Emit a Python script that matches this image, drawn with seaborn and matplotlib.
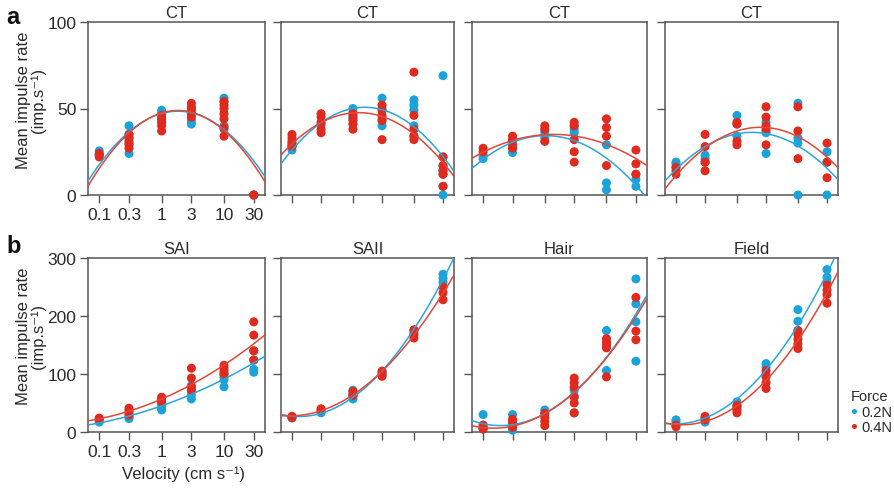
import numpy as np
import pandas as pd
import matplotlib
matplotlib.use("Agg")
import matplotlib.pyplot as plt
import seaborn as sns
from matplotlib.lines import Line2D

# Stroking velocities (cm/s) and their tick labels
velocities = [0.1, 0.3, 1, 3, 10, 30]
velocity_labels = ["0.1", "0.3", "1", "3", "10", "30"]
forces = ["0.2N", "0.4N"]

# Mean impulse rates (imp/s); one list per velocity, for each force
CT1_02 = [[25.5, 23.5], [40, 35, 33, 30, 24], [49, 47, 44], [50, 47, 43, 41], [56, 54, 40, 38], [0]]
CT1_04 = [[24, 23, 22], [35, 33, 31, 29, 27], [46, 44, 42, 40, 37], [53, 51, 49, 47, 45],
          [54, 52, 50, 47, 44, 39, 34], [0, 0]]

CT2_02 = [[30, 28, 26], [41, 40], [50, 48, 46, 44], [56, 50, 44, 40], [55, 52, 49, 40, 34],
          [69, 22, 17, 14, 12, 5, 0]]
CT2_04 = [[35, 33, 31, 29, 28], [47, 45, 42, 38, 36], [47, 45, 43, 41, 38], [52, 49, 46, 43, 32],
          [71, 46, 38, 34, 32], [22, 17, 14, 12, 5]]

CT3_02 = [[23, 21], [31, 27, 24.5], [37, 35, 33], [40, 38, 36], [29, 7, 3], [12, 9, 5]]
CT3_04 = [[27, 25], [34, 32, 29, 27], [40, 38, 31], [42, 40, 32, 25, 19], [44, 39, 34, 17], [26, 18, 12]]

CT4_02 = [[19, 18, 16], [23, 21, 19], [46, 41, 34], [42, 37, 36, 24], [53, 33, 30, 0], [25, 19, 0]]
CT4_04 = [[16, 14, 12], [35, 28, 19, 14], [42, 41, 31, 29], [51, 45, 40, 38, 29], [51, 37, 21], [30, 19, 10]]

SAI_02 = [[17, 19], [26, 23], [50, 45, 40, 38], [80, 72, 64, 57], [100, 95, 90, 78], [140, 124, 108, 103]]
SAI_04 = [[24, 22], [41, 37, 33, 29], [60, 56, 52], [110, 93, 78, 72], [115, 110, 105, 100],
          [190, 167, 140, 124]]

SAII_02 = [[26, 24], [35, 33], [72, 62, 57], [103, 98], [176, 172], [272, 265, 258]]
SAII_04 = [[27, 25], [40, 38], [70, 66, 63], [105, 100, 96], [176, 168, 162], [250, 240, 228]]

HAIR_02 = [[30, 8, 5], [30, 12, 8, 3], [38, 33], [72, 62, 33], [175, 150, 106], [264, 221, 190, 122]]
HAIR_04 = [[12, 8, 5], [22, 17, 12, 8], [32, 25, 18, 11], [93, 85, 77, 60, 50, 33],
           [161, 155, 150, 145, 95], [232, 174, 159]]

FIELD_02 = [[21, 18], [20, 17], [52, 45], [118, 112, 100], [211, 191, 175], [280, 267, 258]]
FIELD_04 = [[12, 9], [27, 24, 21], [46, 42, 38, 33], [106, 95, 85, 75], [175, 168, 160, 152, 144],
            [253, 245, 237, 222]]

top_titles = ["CT", "CT", "CT", "CT"]
bottom_titles = ["SAI", "SAII", "Hair", "Field"]

palette = {"0.2N": "#1aa3db", "0.4N": "#df2a1d"}
line_colors = {"0.2N": "#2aa6da", "0.4N": "#e4463a"}
ink = "#2a2a2a"
spine_col = "#555555"

sns.set_theme(style="ticks")
plt.rcParams["font.family"] = ["Liberation Sans", "DejaVu Sans"]


def tidy(low, high):
    rows = []
    for force, groups in zip(forces, (low, high)):
        for v, vals in zip(velocities, groups):
            for r in vals:
                rows.append({"logv": np.log10(v), "rate": r, "force": force})
    return pd.DataFrame(rows)


W, H = 895, 489
fig = plt.figure(figsize=(W / 100, H / 100), dpi=100)

cols = [(88, 265), (281, 454), (472, 647), (665, 838)]
rows_px = [(23, 196), (259, 433)]

xlim = (np.log10(0.1) - 0.18, np.log10(30) + 0.18)


def make_ax(col, row):
    x0, x1 = cols[col]
    y0, y1 = rows_px[row]
    return fig.add_axes([x0 / W, 1 - y1 / H, (x1 - x0) / W, (y1 - y0) / H])


def draw_panel(ax, low, high, title, ylim, yticks, first):
    df = tidy(low, high)
    ax.set_xlim(*xlim)
    ax.set_ylim(*ylim)
    sns.scatterplot(data=df, x="logv", y="rate", hue="force", hue_order=forces,
                    palette=palette, s=42, linewidth=0, alpha=1, legend=False,
                    ax=ax, zorder=3, clip_on=False)
    for f in forces:
        sub = df[df["force"] == f]
        sns.regplot(data=sub, x="logv", y="rate", order=2, ci=None, scatter=False,
                    truncate=False, ax=ax,
                    line_kws=dict(color=line_colors[f], lw=1.1, zorder=4))
    ax.set_xlim(*xlim)
    ax.set_ylim(*ylim)
    ax.set_xlabel("")
    ax.set_ylabel("")
    ax.set_xticks(np.log10(velocities))
    ax.set_yticks(yticks)
    if first:
        ax.set_xticklabels(velocity_labels)
        ax.set_yticklabels([str(t) for t in yticks])
    else:
        ax.set_xticklabels([])
        ax.set_yticklabels([])
    ax.tick_params(direction="out", length=5.8, width=1.0, color=spine_col,
                   labelsize=12.5, labelcolor=ink, pad=2.5)
    ax.tick_params(axis="x", pad=3)
    for sp in ax.spines.values():
        sp.set_visible(True)
        sp.set_color(spine_col)
        sp.set_linewidth(1.1)
    ax.set_title(title, fontsize=12, color=ink, pad=3.5)
    ax.set_facecolor("white")


top_data = [(CT1_02, CT1_04), (CT2_02, CT2_04), (CT3_02, CT3_04), (CT4_02, CT4_04)]
bottom_data = [(SAI_02, SAI_04), (SAII_02, SAII_04), (HAIR_02, HAIR_04), (FIELD_02, FIELD_04)]

ylabel = "Mean impulse rate\n(imp.s\u207b\u00b9)"
for i, (lo, hi) in enumerate(top_data):
    ax = make_ax(i, 0)
    draw_panel(ax, lo, hi, top_titles[i], (0, 100), [0, 50, 100], i == 0)
    if i == 0:
        ax.set_ylabel(ylabel, fontsize=12, color=ink, linespacing=1.0)
        ax.yaxis.set_label_coords(-0.237, 0.555)

for i, (lo, hi) in enumerate(bottom_data):
    ax = make_ax(i, 1)
    draw_panel(ax, lo, hi, bottom_titles[i], (0, 300), [0, 100, 200, 300], i == 0)
    if i == 0:
        ax.set_ylabel(ylabel, fontsize=12, color=ink, linespacing=1.0)
        ax.yaxis.set_label_coords(-0.237, 0.555)
        ax.set_xlabel("Velocity (cm s\u207b\u00b9)", fontsize=12, color=ink)
        ax.xaxis.set_label_coords(0.54, -0.195)

# Panel letters
fig.text(6 / W, 1 - 24 / H, "a", fontsize=17, fontweight="bold", color="#111111", va="baseline")
fig.text(6 / W, 1 - 253 / H, "b", fontsize=17, fontweight="bold", color="#111111", va="baseline")

# Force legend
handles = [Line2D([], [], marker="o", linestyle="none", markersize=3.6,
                  markerfacecolor=palette[f], markeredgewidth=0) for f in forces]
leg = fig.legend(handles, forces, title="Force", loc="upper left",
                 bbox_to_anchor=(851 / W, 1 - 390 / H), frameon=False,
                 fontsize=10.5, title_fontsize=10.5, handlelength=0.45,
                 handletextpad=0.25, borderpad=0, borderaxespad=0,
                 labelspacing=0.12, alignment="left")
for t in leg.get_texts():
    t.set_color(ink)
leg.get_title().set_color(ink)

fig.savefig("out.png", dpi=100, facecolor="white")
